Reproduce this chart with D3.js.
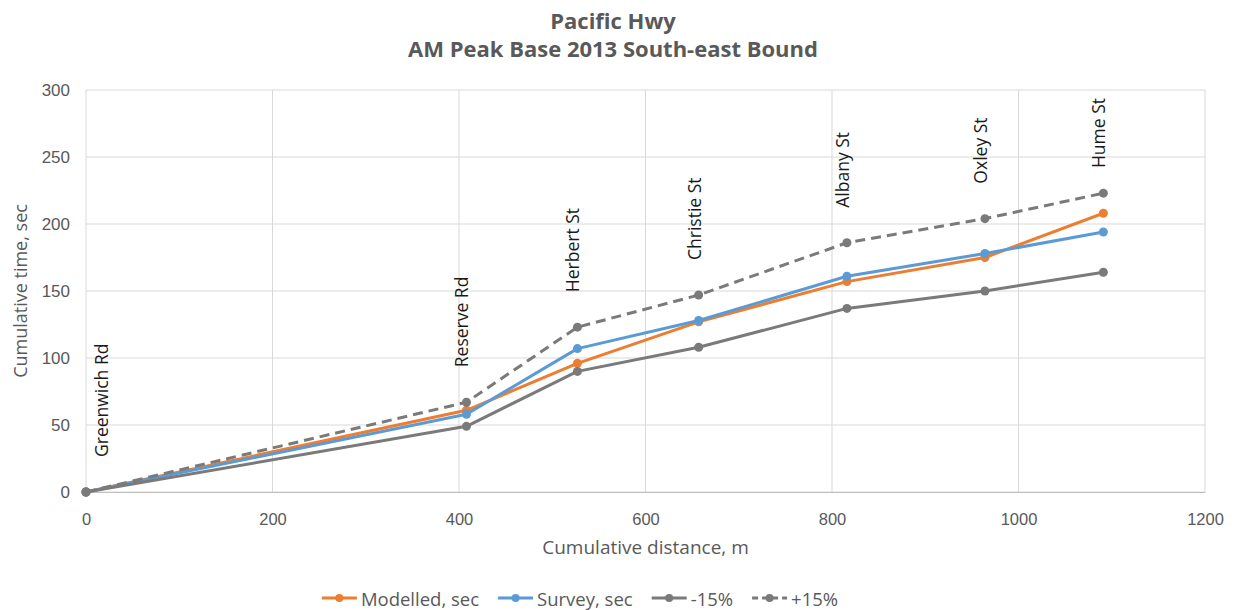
<!DOCTYPE html>
<html>
<head>
<meta charset="utf-8">
<script src="https://cdn.jsdelivr.net/npm/d3@7"></script>
<style>
  html, body { margin: 0; padding: 0; background: #fff; }
  svg { display: block; font-family: "Open Sans", Lato, "Noto Sans", sans-serif; }
</style>
</head>
<body>
<svg id="chart" width="1236" height="610"></svg>
<script>
// ---- data ----
const streets   = ["Greenwich Rd", "Reserve Rd", "Herbert St", "Christie St", "Albany St", "Oxley St", "Hume St"];
const distance  = [0, 408, 527, 657, 816, 964, 1091];
const modelled  = [0, 61, 96, 127, 157, 175, 208];
const survey    = [0, 58, 107, 128, 161, 178, 194];
const minus15   = [0, 49, 90, 108, 137, 150, 164];
const plus15    = [0, 67, 123, 147, 186, 204, 223];
const xTicks    = [0, 200, 400, 600, 800, 1000, 1200];
const yTicks    = [0, 50, 100, 150, 200, 250, 300];
const seriesNames = ["Modelled, sec", "Survey, sec", "-15%", "+15%"];
const titleLines  = ["Pacific Hwy", "AM Peak Base 2013 South-east Bound"];

const series = [
  { name: seriesNames[0], values: modelled, color: "#ED7D31", dash: null },
  { name: seriesNames[1], values: survey,   color: "#5B9BD5", dash: null },
  { name: seriesNames[2], values: minus15,  color: "#7A7A7A", dash: null },
  { name: seriesNames[3], values: plus15,   color: "#7A7A7A", dash: "10,6" }
];

const svg = d3.select("#chart");
const W = 1236, H = 610;
const m = { left: 86, right: 1236 - 1205, top: 90, bottom: 610 - 492 };

const x = d3.scaleLinear().domain([0, 1200]).range([m.left, W - m.right]);
const y = d3.scaleLinear().domain([0, 300]).range([H - m.bottom, m.top]);

const textCol = "#595959";

// title
svg.selectAll("text.title").data(titleLines).join("text")
  .attr("class", "title")
  .attr("x", 613).attr("y", (d, i) => 29 + i * 28)
  .attr("text-anchor", "middle")
  .attr("font-size", 22).attr("font-weight", "bold")
  .attr("fill", textCol).text(d => d);

// gridlines
const grid = svg.append("g");
grid.selectAll("line.h").data(yTicks).join("line")
  .attr("x1", x(0)).attr("x2", x(1200))
  .attr("y1", d => y(d)).attr("y2", d => y(d))
  .attr("stroke", "#d9d9d9").attr("stroke-width", 1);
grid.selectAll("line.v").data(xTicks).join("line")
  .attr("y1", y(0)).attr("y2", y(300))
  .attr("x1", d => x(d)).attr("x2", d => x(d))
  .attr("stroke", "#d9d9d9").attr("stroke-width", 1);

// axes via d3 axis generators
const xAxis = svg.append("g").attr("transform", `translate(0,${y(0)})`)
  .call(d3.axisBottom(x).tickValues(xTicks).tickSize(0).tickPadding(21).tickFormat(d3.format("d")));
xAxis.select(".domain").attr("stroke", "#bfbfbf");
xAxis.selectAll("text").attr("font-size", 16.5).attr("fill", textCol).attr("font-family", null);

const yAxis = svg.append("g").attr("transform", `translate(${x(0)},0)`)
  .call(d3.axisLeft(y).tickValues(yTicks).tickSize(0).tickPadding(16).tickFormat(d3.format("d")));
yAxis.select(".domain").remove();
yAxis.selectAll("text").attr("font-size", 17).attr("fill", textCol).attr("font-family", null);

// axis titles
svg.append("text").attr("x", (x(0) + x(1200)) / 2).attr("y", 554)
  .attr("text-anchor", "middle").attr("font-size", 19).attr("fill", textCol)
  .text("Cumulative distance, m");
svg.append("text").attr("transform", `translate(27,${(y(0) + y(300)) / 2}) rotate(-90)`)
  .attr("text-anchor", "middle").attr("font-size", 18).attr("fill", textCol)
  .text("Cumulative time, sec");

// lines
const line = d3.line().x(d => x(d[0])).y(d => y(d[1]));
series.forEach(s => {
  const pts = distance.map((d, i) => [d, s.values[i]]);
  const g = svg.append("g");
  g.append("path").datum(pts).attr("d", line)
    .attr("fill", "none").attr("stroke", s.color).attr("stroke-width", 3)
    .attr("stroke-dasharray", s.dash).attr("stroke-linejoin", "round");
  g.selectAll("circle").data(pts).join("circle")
    .attr("cx", d => x(d[0])).attr("cy", d => y(d[1])).attr("r", 4.5)
    .attr("fill", s.color);
});

// street labels (vertical)
const lbl = svg.append("g");
streets.forEach((name, i) => {
  const t = lbl.append("text").attr("font-size", 17.5).attr("fill", "#1a1a1a").text(name);
  const len = t.node().getComputedTextLength();
  let by = y(plus15[i]) - 35;
  if (by - len < m.top + 8) by = m.top + 8 + len;
  const cx = Math.max(x(distance[i]) - 5, x(0) + 15);
  t.attr("transform", `translate(${cx},${by}) rotate(-90)`)
   .attr("dominant-baseline", "central");
});

// legend
const legend = svg.append("g");
let cursor = 0;
series.forEach(s => {
  const g = legend.append("g");
  g.append("line").attr("x1", 0).attr("x2", 35).attr("y1", 0).attr("y2", 0)
    .attr("stroke", s.color).attr("stroke-width", 3).attr("stroke-dasharray", s.dash ? "6,4" : null);
  g.append("circle").attr("cx", 17.5).attr("cy", 0).attr("r", 4).attr("fill", s.color);
  const t = g.append("text").attr("x", 39).attr("y", 0).attr("dominant-baseline", "central")
    .attr("font-size", 18.5).attr("fill", textCol).text(s.name);
  const w = 39 + t.node().getComputedTextLength();
  g.attr("transform", `translate(${cursor},0)`);
  cursor += w + 19;
});
const total = cursor - 19;
legend.attr("transform", `translate(${580 - total / 2},598)`);
</script>
</body>
</html>
